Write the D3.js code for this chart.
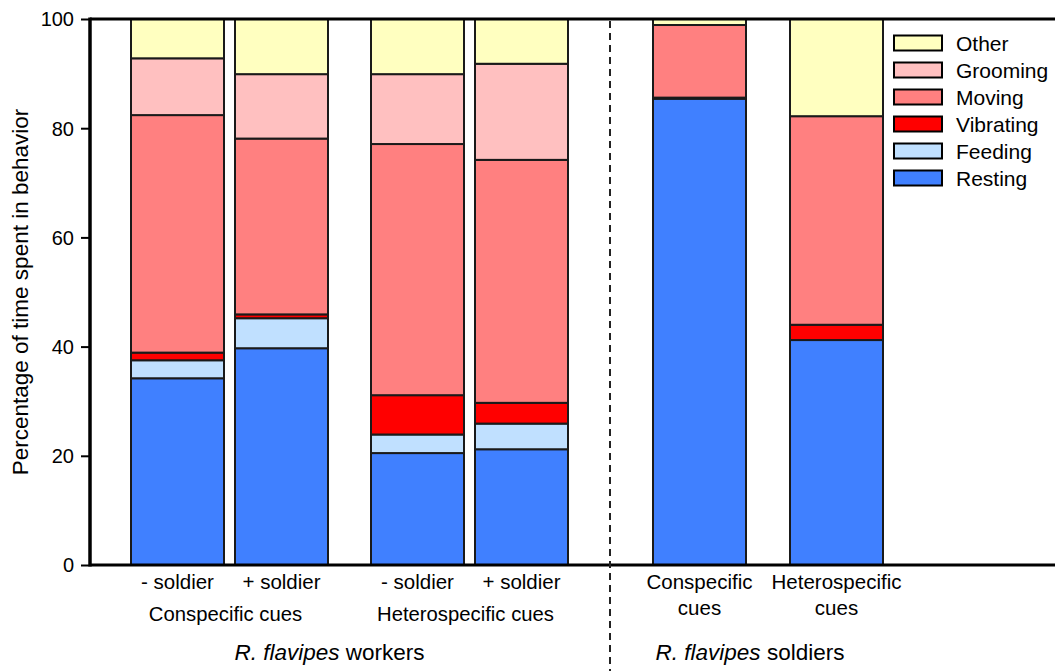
<!DOCTYPE html>
<html>
<head>
<meta charset="utf-8">
<script src="https://cdn.jsdelivr.net/npm/d3@7/dist/d3.min.js"></script>
<style>
  html, body { margin: 0; padding: 0; background: #fff; }
  svg { display: block; font-family: "Liberation Sans", Arial, Helvetica, sans-serif; }
</style>
</head>
<body>
<svg id="chart" width="1055" height="671"></svg>
<script>
// Behaviour categories, stacked bottom to top
const behaviors = ["Resting", "Feeding", "Vibrating", "Moving", "Grooming", "Other"];
const behaviorColors = ["#4080ff", "#c0e0ff", "#ff0000", "#ff8080", "#ffc0c0", "#ffffc0"];

// Treatments: four worker bars, two soldier bars
const barIds = ["w-con-minus", "w-con-plus", "w-het-minus", "w-het-plus", "s-con", "s-het"];
const barLabels = [["- soldier"], ["+ soldier"], ["- soldier"], ["+ soldier"], ["Conspecific", "cues"], ["Heterospecific", "cues"]];
const cueLabels = ["Conspecific cues", "Heterospecific cues"];
const casteLabels = ["workers", "soldiers"];

// Percentage of time spent in each behaviour
const resting   = [34.2, 39.7, 20.5, 21.2, 85.4, 41.2];
const feeding   = [3.3, 5.5, 3.4, 4.7, 0, 0];
const vibrating = [1.4, 0.7, 7.2, 3.8, 0.2, 2.8];
const moving    = [43.5, 32.2, 46.0, 44.5, 13.3, 38.2];
const grooming  = [10.4, 11.8, 12.8, 17.6, 0, 0];
const other     = [7.2, 10.1, 10.1, 8.2, 1.1, 17.8];

const yTicks = [0, 20, 40, 60, 80, 100];

const seriesValues = [resting, feeding, vibrating, moving, grooming, other];
const table = barIds.map((id, i) => {
  const row = { id };
  behaviors.forEach((b, k) => { row[b] = seriesValues[k][i]; });
  return row;
});

const svg = d3.select("#chart");
const W = 1055, H = 671;
const plot = { left: 90, top: 19, bottom: 565 };

const y = d3.scaleLinear().domain([0, 100]).range([plot.bottom, plot.top]);

// Horizontal layout: pairs of worker bars, then soldier bars past the divider
const barW = 93, pairGap = 11, cueGap = 43;
const workerStart = 131, soldierStart = 653, soldierGap = 44;
const lefts = [];
lefts[0] = workerStart;
lefts[1] = lefts[0] + barW + pairGap;
lefts[2] = lefts[1] + barW + cueGap;
lefts[3] = lefts[2] + barW + pairGap;
lefts[4] = soldierStart;
lefts[5] = lefts[4] + barW + soldierGap;
const x = d3.scaleOrdinal().domain(barIds).range(lefts);
const cx = id => x(id) + barW / 2;
const dividerX = 610;

const stack = d3.stack().keys(behaviors);
const layers = stack(table);
const color = d3.scaleOrdinal().domain(behaviors).range(behaviorColors);

// Stacked bars
const g = svg.append("g");
layers.forEach(layer => {
  g.selectAll(null)
    .data(layer.filter(d => d[1] - d[0] > 0))
    .enter().append("rect")
    .attr("x", d => x(d.data.id))
    .attr("width", barW)
    .attr("y", d => y(d[1]))
    .attr("height", d => y(d[0]) - y(d[1]))
    .attr("fill", color(layer.key))
    .attr("stroke", "#1a1a1a")
    .attr("stroke-width", 2);
});

// Frame: left axis, top rule, bottom axis
svg.append("line").attr("x1", plot.left).attr("x2", W).attr("y1", plot.top).attr("y2", plot.top)
  .attr("stroke", "#000").attr("stroke-width", 3);
svg.append("line").attr("x1", plot.left).attr("x2", W).attr("y1", plot.bottom).attr("y2", plot.bottom)
  .attr("stroke", "#000").attr("stroke-width", 3);

const yAxis = d3.axisLeft(y).tickValues(yTicks).tickSize(9).tickPadding(7).tickFormat(d3.format("d"));
const ya = svg.append("g").attr("transform", `translate(${plot.left},0)`).call(yAxis);
ya.select(".domain").attr("stroke", "#000").attr("stroke-width", 3.5).attr("d", `M0,${plot.top - 1.5}V${plot.bottom + 1.5}`);
ya.selectAll(".tick line").attr("stroke", "#000").attr("stroke-width", 2);
ya.selectAll(".tick text").attr("font-size", 20).attr("fill", "#000")
  .attr("font-family", "'Liberation Sans', Arial, sans-serif").attr("dy", "0.34em");

// Y axis title
svg.append("text")
  .attr("transform", `translate(28,${(y(0) + y(100)) / 2}) rotate(-90)`)
  .attr("text-anchor", "middle")
  .attr("font-size", 22.5)
  .text("Percentage of time spent in behavior");

// Dashed divider between workers and soldiers
svg.append("line").attr("x1", dividerX).attr("x2", dividerX).attr("y1", plot.top + 2).attr("y2", H)
  .attr("stroke", "#222").attr("stroke-width", 2).attr("stroke-dasharray", "7,5");

// Bar labels
barIds.forEach((id, i) => {
  const lines = barLabels[i];
  const t = svg.append("text").attr("text-anchor", "middle").attr("font-size", 20.5);
  lines.forEach((s, j) => {
    t.append("tspan").attr("x", cx(id)).attr("y", 589 + j * 26).text(s);
  });
});

// Cue group labels under the worker pairs
[[0, 1], [2, 3]].forEach((pair, k) => {
  const mid = (cx(barIds[pair[0]]) + cx(barIds[pair[1]])) / 2 - 4;
  svg.append("text").attr("x", mid).attr("y", 621).attr("text-anchor", "middle")
    .attr("font-size", 20.3).text(cueLabels[k]);
});

// Caste labels
const casteCenters = [
  (x(barIds[0]) + x(barIds[3]) + barW) / 2 - 20,
  (x(barIds[4]) + x(barIds[5]) + barW) / 2 - 18
];
casteLabels.forEach((c, k) => {
  const t = svg.append("text").attr("x", casteCenters[k]).attr("y", 660)
    .attr("text-anchor", "middle").attr("font-size", 22.5);
  t.append("tspan").attr("font-style", "italic").text("R. flavipes");
  t.append("tspan").text(" " + c);
});

// Legend, top entry first
const legend = svg.append("g").attr("transform", "translate(894,43)");
behaviors.slice().reverse().forEach((b, i) => {
  const row = legend.append("g").attr("transform", `translate(0,${i * 27})`);
  row.append("rect").attr("x", 0).attr("y", -7.5).attr("width", 48).attr("height", 15)
    .attr("fill", color(b)).attr("stroke", "#000").attr("stroke-width", 2);
  row.append("text").attr("x", 62).attr("y", 7.5).attr("font-size", 21).text(b);
});
</script>
</body>
</html>
